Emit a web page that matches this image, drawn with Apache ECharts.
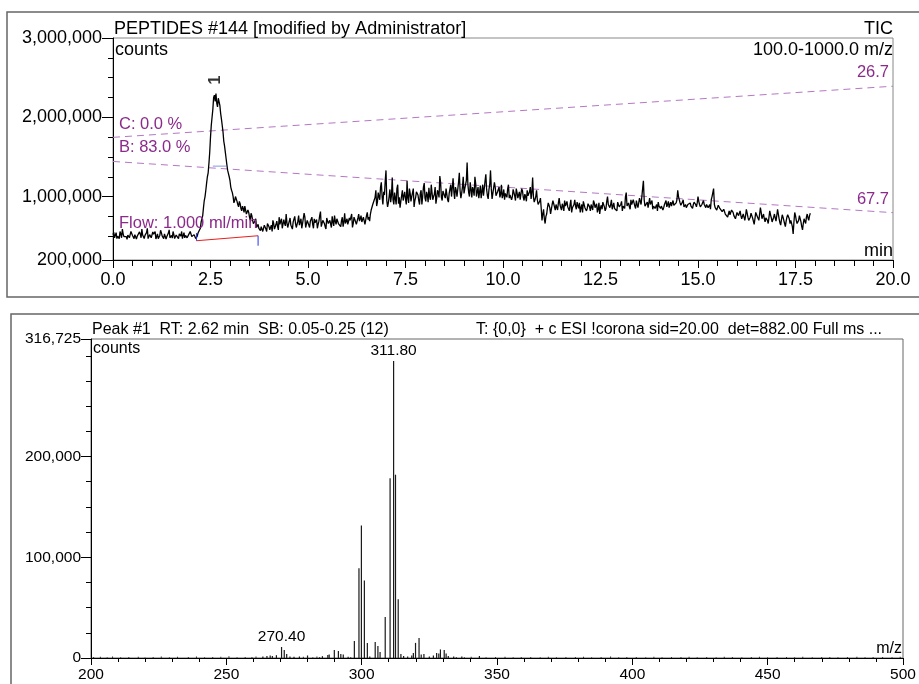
<!DOCTYPE html>
<html>
<head>
<meta charset="utf-8">
<script src="https://cdn.jsdelivr.net/npm/echarts@6/dist/echarts.min.js"></script>
<style>
html,body{margin:0;padding:0;background:#fff;}
#chart{width:919px;height:684px;}
</style>
</head>
<body>
<div id="chart"></div>
<script>
// ---------- TOP: TIC chromatogram (values in thousands of counts) ----------
const ticStart = 0.0;   // min
const ticStep = 0.04;   // min between main samples
// samples at t = ticStart + i*ticStep
const ticK = [
  // 0.00 - 2.16
  520,480,545,500,470,530,590,495,510,460,540,505,575,490,520,465,500,555,480,515,
  470,535,600,490,505,475,525,560,495,470,510,545,485,530,465,505,580,500,475,520,
  490,540,470,515,560,495,480,525,470,510,545,490,520,470,500,
  // 2.20 - 4.00 (peak 1)
  520,600,700,860,1000,1170,1300,1560,1900,2100,2280,2300,2130,2250,2050,1900,1700,1560,1400,1290,
  1200,1080,1000,950,1020,900,940,850,880,800,860,760,800,700,760,660,690,610,650,590,
  620,560,640,590,660,620,
  // 4.04 - 6.60
  600,560,660,620,690,580,650,720,600,660,780,610,690,640,590,700,660,620,760,650,
  600,680,740,630,670,610,700,650,720,660,600,690,810,640,680,620,730,660,700,610,
  680,760,650,710,670,620,740,680,660,720,640,700,780,660,710,650,730,690,760,700,
  720,670,800,740,780,
  // 6.64 - 9.00
  850,920,990,880,1050,960,1180,900,1020,1330,870,1000,930,1240,900,980,1100,910,860,1010,
  950,1060,900,980,1100,940,1020,870,990,1080,950,1040,900,1120,980,1060,930,1000,1150,960,
  1030,910,1080,990,1180,950,1040,980,1110,930,1060,1000,1230,970,1080,1020,1300,980,1120,1040,
  // 9.04 - 11.00
  1100,1430,1050,1180,990,1080,1250,1000,1120,1060,980,1150,1030,1280,1010,1090,1330,970,1050,1120,
  1000,1080,990,1150,1020,960,1060,1100,980,1040,1000,1080,950,1050,1020,960,1100,990,1030,940,
  1010,1060,970,1240,930,1000,960,880,980,700,
  // 11.04 - 14.00
  840,660,780,920,860,800,950,870,900,830,980,860,910,820,880,940,850,900,800,870,
  960,840,890,920,860,800,930,870,850,900,820,880,950,860,910,840,780,890,930,870,
  850,1000,880,900,840,920,870,820,900,860,940,880,850,1050,900,870,960,880,920,850,
  900,870,940,1000,1200,880,900,860,980,880,840,900,860,820,880,
  // 14.04 - 16.00
  850,900,860,920,870,940,900,880,950,870,920,1080,1000,890,930,870,900,850,880,920,
  860,900,940,870,1000,900,880,920,900,860,920,880,840,1000,1100,860,830,890,850,870,
  800,860,760,740,820,780,840,760,720,800,
  // 16.04 - 17.88
  760,820,720,780,700,840,740,680,790,730,650,800,750,700,860,720,780,680,740,660,
  820,730,700,780,690,840,720,640,770,700,620,740,790,660,720,530,800,700,640,760,
  680,580,720,660,780,700,790
];
// in-between samples at t = ticStart + (i+0.5)*ticStep
const ticKMid = [
  // 0.02 - 2.18
  550,500,470,520,560,480,530,470,495,515,480,560,510,470,540,500,475,525,590,490,
  510,545,470,520,480,555,500,465,530,490,575,505,470,520,495,540,480,510,560,470,
  515,490,530,500,470,545,510,480,520,560,495,470,505,480,540,
  // 2.22 - 4.02
  560,680,760,950,1080,1250,1420,1750,2000,2250,2200,2180,2240,2150,1980,1820,1640,1480,1330,1250,
  1120,1050,920,1000,940,870,910,820,850,880,780,830,740,790,700,640,720,630,600,570,
  640,580,620,560,650,580,
  // 4.06 - 6.62
  640,700,590,650,620,740,690,600,710,630,670,590,730,620,680,750,610,690,640,720,
  660,790,610,700,640,690,740,600,670,710,650,760,620,700,660,590,710,640,680,750,
  630,690,720,660,640,700,620,790,680,650,730,690,610,740,700,660,780,720,680,740,
  650,760,710,690,830,
  // 6.66 - 9.02
  900,960,1080,930,1000,1120,1000,1060,1200,950,920,1090,1010,960,1050,900,1150,990,940,1080,
  1010,970,1200,920,1040,1000,1100,950,1060,1020,900,1080,1000,1170,940,1020,1110,960,1050,1000,
  1120,980,1050,1260,990,1070,1010,1100,960,1040,1150,980,1060,1120,1000,1180,1070,1040,1250,1100,
  // 9.06 - 11.02
  1200,1150,1000,1090,1120,1010,1160,1060,980,1140,1060,1010,1200,1090,970,1150,1100,1040,1180,1010,
  1060,1120,1030,980,1090,1040,990,1150,1020,960,1090,1010,1100,980,1060,1030,1070,950,1000,1080,
  990,1120,1050,1000,960,1080,900,940,850,780,
  // 11.06 - 14.02
  720,750,860,890,780,900,910,830,860,920,900,830,880,950,910,870,820,960,860,900,
  880,930,850,800,900,940,860,820,910,870,900,830,920,880,800,920,860,840,910,820,
  940,900,860,960,880,850,830,930,870,900,820,900,1000,880,920,840,900,960,880,950,
  860,980,900,1100,960,870,930,880,900,950,880,850,900,930,860,
  // 14.06 - 16.02
  880,830,900,950,900,860,930,920,890,900,960,1000,920,900,960,880,860,900,920,880,
  850,930,900,920,940,870,900,950,880,900,860,900,960,1050,900,850,860,880,830,810,
  840,780,800,780,770,830,800,740,760,780,
  // 16.06 - 17.86
  790,760,700,740,760,790,700,740,760,690,720,780,730,780,800,750,720,730,700,740,
  770,680,740,730,760,780,670,710,740,660,690,770,720,700,620,680,760,660,700,720,
  620,660,690,740,730,760
];
// gradient program lines (value in thousands at t=0 and t=20)
const gradC = [[0, 1747], [20, 2392]];
const gradB = [[0, 1443], [20, 797]];
// integration baseline of peak 1
const peakBaseline = [[2.14, 443], [3.72, 506]];
const peakStartTick = [[2.14, 443], [2.14, 540]];
const peakEndTick = [[3.72, 380], [3.72, 506]];
const peakWidthMark = [[2.56, 1384], [2.92, 1384]];
const peakLabel = [[2.62, 2470]];
const topYLabels = [200, 1000, 2000, 3000];
const topYMinorTicks = [500, 750, 1250, 1500, 1750, 2250, 2500, 2750];

// ---------- BOTTOM: mass spectrum ----------
const msMz = [263.5,265.0,266.2,267.0,268.5,270.4,271.4,272.3,273.5,275.0,277.0,280.0,285.5,287.5,288.0,289.9,291.4,292.3,293.2,295.0,
  297.3,299.0,299.9,301.0,302.1,303.0,305.0,306.0,306.8,308.7,310.5,311.8,312.5,313.5,314.5,315.5,317.0,318.5,319.1,319.9,
  321.2,322.0,323.0,325.0,326.5,327.7,328.5,329.1,330.5,331.2,332.0,334.0,337.0,343.5];
const msInt = [1500,2000,2500,2000,2800,10900,7900,4000,1500,1200,1500,2500,1800,3000,3500,8000,7000,4000,3500,1200,
  16800,89000,131500,77000,15000,1500,15800,12000,6000,40600,178500,295000,182000,58400,4000,2000,1500,2500,5000,15000,
  19800,3500,4000,1500,2500,5000,4500,8500,8000,4500,2000,1500,1500,2000];
const labelledMz = [311.8, 270.4];
const noiseMz = [201,203.5,206,208,211,214,217.5,220,223,226,229,232,236,239,242,245,248,251,254,257,259.5,261,278.5,282,283.5,284.5,296,
  335,338,340.5,346,349.5,353,356,359,362.5,366,369,372,375.5,379,382,385,388.5,392,395,398,401.5,405,408,411,414.5,418,421,424,
  427.5,431,434,437,440.5,444,447,450,453.5,457,460,463,466.5,470,473,476,479.5,483,486,489,492.5,496,499];
const noiseInt = [900,1200,700,1500,800,1100,1300,600,1000,1400,700,1200,900,1600,800,1000,1300,1800,700,1100,900,1500,1200,800,1400,1000,900,
  1100,800,1300,700,1000,1200,800,900,1100,700,1300,800,1000,900,1200,700,1000,1400,800,900,1100,700,1200,800,1000,900,1300,700,
  1000,800,1200,900,700,1100,1300,800,900,1000,700,1200,800,1100,900,700,1000,1300,800,900,1100,700,1200];
const botYLabels = [0, 100000, 200000, 316725];
const botYMinorTicks = [25000,50000,75000,125000,150000,175000,225000,250000,275000,300000];

// ---------- build ----------
const FONT = '"Liberation Sans", Arial, Helvetica, sans-serif';
const PURPLE = '#8c2a8c';
const DASH = '#b478c4';
const fmtComma = v => String(Math.round(v)).replace(/\B(?=(\d{3})+(?!\d))/g, ',');

const ticData = [];
ticK.forEach((v, i) => {
  const t = ticStart + i * ticStep;
  ticData.push([+t.toFixed(3), v]);
  if (i < ticKMid.length) ticData.push([+(t + ticStep / 2).toFixed(3), ticKMid[i]]);
});
const msData = msMz.map((m, i) => {
  const item = { value: [m, msInt[i]] };
  if (labelledMz.indexOf(m) >= 0) {
    item.label = { show: true, position: 'top', distance: 2, formatter: m.toFixed(2),
      color: '#000', fontSize: 15.5, fontFamily: FONT };
  }
  return item;
});
const noiseData = noiseMz.map((m, i) => [m, noiseInt[i]]);

function txt(x, y, text, size, color, align) {
  return { type: 'text', x: x, y: y, z: 50,
    style: { text: text, fontSize: size, fontFamily: FONT, fill: color || '#000',
      align: align || 'left', verticalAlign: 'middle' } };
}

const chart = echarts.init(document.getElementById('chart'), null, { renderer: 'canvas' });
const axisBlack = { lineStyle: { color: '#000', width: 1 } };

chart.setOption({
  animation: false,
  backgroundColor: '#fff',
  grid: [
    { left: 113, top: 38, width: 780, height: 222, show: true, borderColor: '#888', borderWidth: 1, containLabel: false },
    { left: 91, top: 339, width: 812, height: 319, show: true, borderColor: '#666', borderWidth: 1, containLabel: false }
  ],
  xAxis: [
    { type: 'value', gridIndex: 0, min: 0, max: 20, interval: 2.5,
      axisLine: axisBlack, splitLine: { show: false },
      axisTick: { show: true, length: 8, lineStyle: { color: '#000' } },
      minorTick: { show: true, splitNumber: 5, length: 6, lineStyle: { color: '#000' } },
      minorSplitLine: { show: false },
      axisLabel: { formatter: v => v.toFixed(1), fontSize: 18, color: '#000', fontFamily: FONT, margin: 11 } },
    { type: 'value', gridIndex: 1, min: 200, max: 500, interval: 50,
      axisLine: axisBlack, splitLine: { show: false },
      axisTick: { show: true, length: 7, lineStyle: { color: '#000' } },
      minorTick: { show: true, splitNumber: 5, length: 4, lineStyle: { color: '#000' } },
      minorSplitLine: { show: false },
      axisLabel: { fontSize: 15.5, color: '#000', fontFamily: FONT, margin: 9 } }
  ],
  yAxis: [
    { type: 'value', gridIndex: 0, min: 200, max: 3000, position: 'left',
      axisLine: { show: true, lineStyle: { color: '#000' } }, splitLine: { show: false },
      axisTick: { show: true, length: 11, customValues: topYLabels, lineStyle: { color: '#000' } },
      axisLabel: { customValues: topYLabels, formatter: v => fmtComma(v * 1000), fontSize: 18, color: '#000', fontFamily: FONT, margin: 11 } },
    { type: 'value', gridIndex: 0, min: 200, max: 3000, position: 'left', offset: 0,
      axisLine: { show: false }, splitLine: { show: false }, axisLabel: { show: false },
      axisTick: { show: true, length: 5, customValues: topYMinorTicks, lineStyle: { color: '#000' } } },
    { type: 'value', gridIndex: 1, min: 0, max: 316725, position: 'left',
      axisLine: { show: true, lineStyle: { color: '#000' } }, splitLine: { show: false },
      axisTick: { show: true, length: 10, customValues: botYLabels, lineStyle: { color: '#000' } },
      axisLabel: { customValues: botYLabels, formatter: v => fmtComma(v), fontSize: 15.5, color: '#000', fontFamily: FONT, margin: 10 } },
    { type: 'value', gridIndex: 1, min: 0, max: 316725, position: 'left', offset: 0,
      axisLine: { show: false }, splitLine: { show: false }, axisLabel: { show: false },
      axisTick: { show: true, length: 5, customValues: botYMinorTicks, lineStyle: { color: '#000' } } }
  ],
  series: [
    { type: 'line', xAxisIndex: 0, yAxisIndex: 0, data: gradC, showSymbol: false, silent: true,
      lineStyle: { color: DASH, width: 1, type: [7, 5] }, z: 2 },
    { type: 'line', xAxisIndex: 0, yAxisIndex: 0, data: gradB, showSymbol: false, silent: true,
      lineStyle: { color: DASH, width: 1, type: [7, 5] }, z: 2 },
    { type: 'line', xAxisIndex: 0, yAxisIndex: 0, data: ticData, showSymbol: false, silent: true,
      lineStyle: { color: '#000', width: 1.3 }, z: 3 },
    { type: 'line', xAxisIndex: 0, yAxisIndex: 0, data: peakBaseline, showSymbol: false, silent: true,
      lineStyle: { color: '#e8201c', width: 1 }, z: 4 },
    { type: 'line', xAxisIndex: 0, yAxisIndex: 0, data: peakStartTick, showSymbol: false, silent: true,
      lineStyle: { color: '#2233ee', width: 1 }, z: 4 },
    { type: 'line', xAxisIndex: 0, yAxisIndex: 0, data: peakEndTick, showSymbol: false, silent: true,
      lineStyle: { color: '#2233ee', width: 1 }, z: 4 },
    { type: 'line', xAxisIndex: 0, yAxisIndex: 0, data: peakWidthMark, showSymbol: false, silent: true,
      lineStyle: { color: '#5566dd', width: 1, opacity: 0.7 }, z: 4 },
    { type: 'scatter', xAxisIndex: 0, yAxisIndex: 0, data: peakLabel, symbolSize: 0, silent: true,
      label: { show: true, position: 'inside', formatter: '1', rotate: 90, fontSize: 16, fontWeight: 'bold',
        color: '#000', fontFamily: FONT }, z: 5 },
    { type: 'bar', xAxisIndex: 1, yAxisIndex: 2, data: noiseData, barWidth: 1, silent: true,
      itemStyle: { color: '#333' }, z: 3 },
    { type: 'bar', xAxisIndex: 1, yAxisIndex: 2, data: msData, barWidth: 1.2, barGap: '-100%', silent: true,
      itemStyle: { color: '#1a1a1a' }, z: 4 }
  ],
  graphic: [
    { type: 'rect', z: 0, shape: { x: 7, y: 12, width: 940, height: 285 }, style: { fill: 'none', stroke: '#666', lineWidth: 1.5 } },
    { type: 'rect', z: 0, shape: { x: 11, y: 314, width: 940, height: 420 }, style: { fill: 'none', stroke: '#666', lineWidth: 1.5 } },
    txt(114, 29, 'PEPTIDES #144 [modified by Administrator]', 18),
    txt(893, 29, 'TIC', 18, '#000', 'right'),
    txt(115, 50, 'counts', 18),
    txt(893, 50, '100.0-1000.0 m/z', 18, '#000', 'right'),
    txt(889, 72, '26.7', 16.5, PURPLE, 'right'),
    txt(889, 199, '67.7', 16.5, PURPLE, 'right'),
    txt(893, 251, 'min', 18, '#000', 'right'),
    txt(119, 124, 'C: 0.0 %', 16.5, PURPLE),
    txt(119, 147, 'B: 83.0 %', 16.5, PURPLE),
    txt(119, 223, 'Flow: 1.000 ml/min', 16.5, PURPLE),
    txt(92, 330, 'Peak #1  RT: 2.62 min  SB: 0.05-0.25 (12)', 16),
    txt(476, 330, 'T: {0,0}  + c ESI !corona sid=20.00  det=882.00 Full ms ...', 16),
    txt(93, 349, 'counts', 16),
    txt(902, 649, 'm/z', 16, '#000', 'right')
  ]
});
</script>
</body>
</html>
